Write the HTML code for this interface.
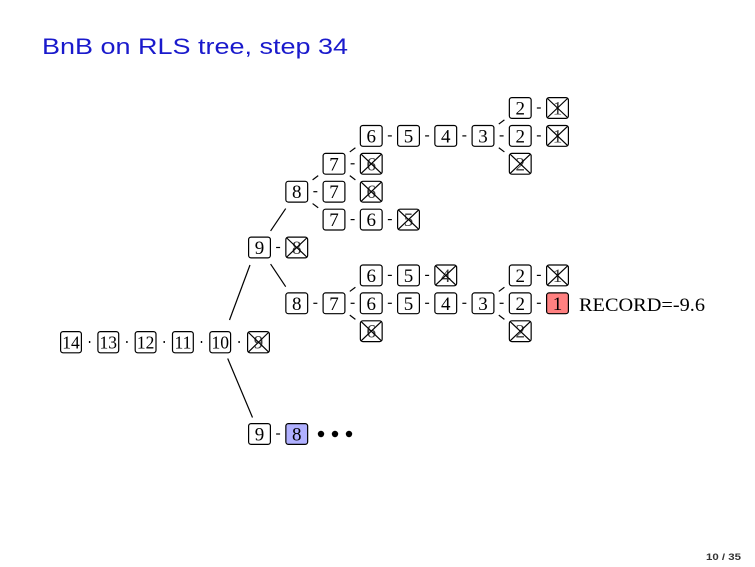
<!DOCTYPE html>
<html>
<head>
<meta charset="utf-8">
<style>
  html, body { margin: 0; padding: 0; background: #ffffff; }
  svg { display: block; }
  .b rect { fill: #ffffff; stroke: #000; stroke-width: 1.2; }
  .b text { font-family: "Liberation Serif", serif; font-size: 19px; text-anchor: middle; fill: #000; }
  .x text { fill: #3a3a3a; }
  .x line { stroke: #000; stroke-width: 1.2; }
  .m text { font-size: 17.5px; }
  .c line, line.c { stroke: #000; stroke-width: 1.2; }
</style>
</head>
<body>
<svg width="755" height="567" viewBox="0 0 755 567" xmlns="http://www.w3.org/2000/svg">
  <!-- Title -->
  <text x="42" y="54" font-family="Liberation Sans, sans-serif" font-size="22.5" fill="#1a1acc" textLength="306" lengthAdjust="spacingAndGlyphs">BnB on RLS tree, step 34</text>

  <!-- connectors -->
  <g class="c">
    <!-- long lines -->
    <line x1="270.6" y1="230.9" x2="285.7" y2="208.6"/>
    <line x1="270.6" y1="264.1" x2="285.7" y2="286.7"/>
    <line x1="229.5" y1="320" x2="250" y2="265"/>
    <line x1="227.7" y1="358.5" x2="252.5" y2="417.5"/>

    <!-- upper subtree -->
    <line x1="312.6" y1="179.85" x2="318.2" y2="175.65"/>
    <line x1="312.6" y1="203.55" x2="318.2" y2="207.75"/>
    <line x1="313.35" y1="191.7" x2="317.35" y2="191.7"/>

    <line x1="349.8" y1="151.95" x2="355.4" y2="147.75"/>
    <line x1="350.6" y1="163.8" x2="354.6" y2="163.8"/>
    <line x1="349.8" y1="175.65" x2="355.4" y2="179.85"/>

    <line x1="387.85" y1="135.9" x2="391.85" y2="135.9"/>
    <line x1="425.1" y1="135.9" x2="429.1" y2="135.9"/>
    <line x1="462.35" y1="135.9" x2="466.35" y2="135.9"/>

    <line x1="498.8" y1="124.05" x2="504.4" y2="119.85"/>
    <line x1="499.6" y1="135.9" x2="503.6" y2="135.9"/>
    <line x1="498.8" y1="147.75" x2="504.4" y2="151.95"/>

    <line x1="536.85" y1="108" x2="540.85" y2="108"/>
    <line x1="536.85" y1="135.9" x2="540.85" y2="135.9"/>

    <line x1="350.6" y1="219.6" x2="354.6" y2="219.6"/>
    <line x1="387.85" y1="219.6" x2="391.85" y2="219.6"/>

    <line x1="276.1" y1="247.5" x2="280.1" y2="247.5"/>

    <!-- lower subtree -->
    <line x1="313.35" y1="303.3" x2="317.35" y2="303.3"/>
    <line x1="349.8" y1="291.45" x2="355.4" y2="287.25"/>
    <line x1="350.6" y1="303.3" x2="354.6" y2="303.3"/>
    <line x1="349.8" y1="315.15" x2="355.4" y2="319.35"/>

    <line x1="387.85" y1="275.4" x2="391.85" y2="275.4"/>
    <line x1="425.1" y1="275.4" x2="429.1" y2="275.4"/>

    <line x1="387.85" y1="303.3" x2="391.85" y2="303.3"/>
    <line x1="425.1" y1="303.3" x2="429.1" y2="303.3"/>
    <line x1="462.35" y1="303.3" x2="466.35" y2="303.3"/>

    <line x1="498.8" y1="291.45" x2="504.4" y2="287.25"/>
    <line x1="499.6" y1="303.3" x2="503.6" y2="303.3"/>
    <line x1="498.8" y1="315.15" x2="504.4" y2="319.35"/>

    <line x1="536.85" y1="275.4" x2="540.85" y2="275.4"/>
    <line x1="536.85" y1="303.3" x2="540.85" y2="303.3"/>

    <!-- bottom row -->
    <line x1="276.1" y1="434" x2="280.1" y2="434"/>
  </g>

  <!-- main row dots -->
  <g fill="#000">
    <rect x="88.9" y="341" width="1.4" height="2"/>
    <rect x="126.2" y="341" width="1.4" height="2"/>
    <rect x="163.5" y="341" width="1.4" height="2"/>
    <rect x="200.8" y="341" width="1.4" height="2"/>
    <rect x="238.4" y="341" width="1.4" height="2"/>
  </g>

  <!-- Upper subtree boxes -->
  <!-- r0 -->
  <g class="b" transform="translate(508.75,97)"><rect x="0.6" y="0.6" width="21.8" height="20.8" rx="2.5"/><text x="11.5" y="17.5">2</text></g>
  <g class="b x" transform="translate(546,97)"><rect x="0.6" y="0.6" width="21.8" height="20.8" rx="2.5"/><text x="11.5" y="17.5">1</text><line x1="1.5" y1="1.5" x2="21.5" y2="20.5"/><line x1="21.5" y1="1.5" x2="1.5" y2="20.5"/></g>
  <!-- r1 -->
  <g class="b" transform="translate(359.75,124.9)"><rect x="0.6" y="0.6" width="21.8" height="20.8" rx="2.5"/><text x="11.5" y="17.5">6</text></g>
  <g class="b" transform="translate(397,124.9)"><rect x="0.6" y="0.6" width="21.8" height="20.8" rx="2.5"/><text x="11.5" y="17.5">5</text></g>
  <g class="b" transform="translate(434.25,124.9)"><rect x="0.6" y="0.6" width="21.8" height="20.8" rx="2.5"/><text x="11.5" y="17.5">4</text></g>
  <g class="b" transform="translate(471.5,124.9)"><rect x="0.6" y="0.6" width="21.8" height="20.8" rx="2.5"/><text x="11.5" y="17.5">3</text></g>
  <g class="b" transform="translate(508.75,124.9)"><rect x="0.6" y="0.6" width="21.8" height="20.8" rx="2.5"/><text x="11.5" y="17.5">2</text></g>
  <g class="b x" transform="translate(546,124.9)"><rect x="0.6" y="0.6" width="21.8" height="20.8" rx="2.5"/><text x="11.5" y="17.5">1</text><line x1="1.5" y1="1.5" x2="21.5" y2="20.5"/><line x1="21.5" y1="1.5" x2="1.5" y2="20.5"/></g>
  <!-- r2 -->
  <g class="b" transform="translate(322.5,152.8)"><rect x="0.6" y="0.6" width="21.8" height="20.8" rx="2.5"/><text x="11.5" y="17.5">7</text></g>
  <g class="b x" transform="translate(359.75,152.8)"><rect x="0.6" y="0.6" width="21.8" height="20.8" rx="2.5"/><text x="11.5" y="17.5">6</text><line x1="1.5" y1="1.5" x2="21.5" y2="20.5"/><line x1="21.5" y1="1.5" x2="1.5" y2="20.5"/></g>
  <g class="b x" transform="translate(508.75,152.8)"><rect x="0.6" y="0.6" width="21.8" height="20.8" rx="2.5"/><text x="11.5" y="17.5">2</text><line x1="1.5" y1="1.5" x2="21.5" y2="20.5"/><line x1="21.5" y1="1.5" x2="1.5" y2="20.5"/></g>
  <!-- r3 -->
  <g class="b" transform="translate(285.25,180.7)"><rect x="0.6" y="0.6" width="21.8" height="20.8" rx="2.5"/><text x="11.5" y="17.5">8</text></g>
  <g class="b" transform="translate(322.5,180.7)"><rect x="0.6" y="0.6" width="21.8" height="20.8" rx="2.5"/><text x="11.5" y="17.5">7</text></g>
  <g class="b x" transform="translate(359.75,180.7)"><rect x="0.6" y="0.6" width="21.8" height="20.8" rx="2.5"/><text x="11.5" y="17.5">6</text><line x1="1.5" y1="1.5" x2="21.5" y2="20.5"/><line x1="21.5" y1="1.5" x2="1.5" y2="20.5"/></g>
  <!-- r4 -->
  <g class="b" transform="translate(322.5,208.6)"><rect x="0.6" y="0.6" width="21.8" height="20.8" rx="2.5"/><text x="11.5" y="17.5">7</text></g>
  <g class="b" transform="translate(359.75,208.6)"><rect x="0.6" y="0.6" width="21.8" height="20.8" rx="2.5"/><text x="11.5" y="17.5">6</text></g>
  <g class="b x" transform="translate(397,208.6)"><rect x="0.6" y="0.6" width="21.8" height="20.8" rx="2.5"/><text x="11.5" y="17.5">5</text><line x1="1.5" y1="1.5" x2="21.5" y2="20.5"/><line x1="21.5" y1="1.5" x2="1.5" y2="20.5"/></g>
  <!-- r5 -->
  <g class="b" transform="translate(248,236.5)"><rect x="0.6" y="0.6" width="21.8" height="20.8" rx="2.5"/><text x="11.5" y="17.5">9</text></g>
  <g class="b x" transform="translate(285.25,236.5)"><rect x="0.6" y="0.6" width="21.8" height="20.8" rx="2.5"/><text x="11.5" y="17.5">8</text><line x1="1.5" y1="1.5" x2="21.5" y2="20.5"/><line x1="21.5" y1="1.5" x2="1.5" y2="20.5"/></g>

  <!-- Lower subtree -->
  <!-- r6 -->
  <g class="b" transform="translate(359.75,264.4)"><rect x="0.6" y="0.6" width="21.8" height="20.8" rx="2.5"/><text x="11.5" y="17.5">6</text></g>
  <g class="b" transform="translate(397,264.4)"><rect x="0.6" y="0.6" width="21.8" height="20.8" rx="2.5"/><text x="11.5" y="17.5">5</text></g>
  <g class="b x" transform="translate(434.25,264.4)"><rect x="0.6" y="0.6" width="21.8" height="20.8" rx="2.5"/><text x="11.5" y="17.5">4</text><line x1="1.5" y1="1.5" x2="21.5" y2="20.5"/><line x1="21.5" y1="1.5" x2="1.5" y2="20.5"/></g>
  <g class="b" transform="translate(508.75,264.4)"><rect x="0.6" y="0.6" width="21.8" height="20.8" rx="2.5"/><text x="11.5" y="17.5">2</text></g>
  <g class="b x" transform="translate(546,264.4)"><rect x="0.6" y="0.6" width="21.8" height="20.8" rx="2.5"/><text x="11.5" y="17.5">1</text><line x1="1.5" y1="1.5" x2="21.5" y2="20.5"/><line x1="21.5" y1="1.5" x2="1.5" y2="20.5"/></g>
  <!-- r7 -->
  <g class="b" transform="translate(285.25,292.3)"><rect x="0.6" y="0.6" width="21.8" height="20.8" rx="2.5"/><text x="11.5" y="17.5">8</text></g>
  <g class="b" transform="translate(322.5,292.3)"><rect x="0.6" y="0.6" width="21.8" height="20.8" rx="2.5"/><text x="11.5" y="17.5">7</text></g>
  <g class="b" transform="translate(359.75,292.3)"><rect x="0.6" y="0.6" width="21.8" height="20.8" rx="2.5"/><text x="11.5" y="17.5">6</text></g>
  <g class="b" transform="translate(397,292.3)"><rect x="0.6" y="0.6" width="21.8" height="20.8" rx="2.5"/><text x="11.5" y="17.5">5</text></g>
  <g class="b" transform="translate(434.25,292.3)"><rect x="0.6" y="0.6" width="21.8" height="20.8" rx="2.5"/><text x="11.5" y="17.5">4</text></g>
  <g class="b" transform="translate(471.5,292.3)"><rect x="0.6" y="0.6" width="21.8" height="20.8" rx="2.5"/><text x="11.5" y="17.5">3</text></g>
  <g class="b" transform="translate(508.75,292.3)"><rect x="0.6" y="0.6" width="21.8" height="20.8" rx="2.5"/><text x="11.5" y="17.5">2</text></g>
  <g class="b" transform="translate(546,292.3)"><rect x="0.6" y="0.6" width="21.8" height="20.8" rx="2.5" style="fill:#ff8080"/><text x="11.5" y="17.5">1</text></g>
  <text x="579" y="311" font-family="Liberation Serif, serif" font-size="19" fill="#000" textLength="126" lengthAdjust="spacingAndGlyphs">RECORD=-9.6</text>
  <!-- r8 -->
  <g class="b x" transform="translate(359.75,320.2)"><rect x="0.6" y="0.6" width="21.8" height="20.8" rx="2.5"/><text x="11.5" y="17.5">6</text><line x1="1.5" y1="1.5" x2="21.5" y2="20.5"/><line x1="21.5" y1="1.5" x2="1.5" y2="20.5"/></g>
  <g class="b x" transform="translate(508.75,320.2)"><rect x="0.6" y="0.6" width="21.8" height="20.8" rx="2.5"/><text x="11.5" y="17.5">2</text><line x1="1.5" y1="1.5" x2="21.5" y2="20.5"/><line x1="21.5" y1="1.5" x2="1.5" y2="20.5"/></g>

  <!-- Main row -->
  <g class="b m" transform="translate(60,331)"><rect x="0.6" y="0.6" width="20.8" height="21.2" rx="2.5"/><text x="11" y="17.5">14</text></g>
  <g class="b m" transform="translate(97.3,331)"><rect x="0.6" y="0.6" width="20.8" height="21.2" rx="2.5"/><text x="11" y="17.5">13</text></g>
  <g class="b m" transform="translate(134.6,331)"><rect x="0.6" y="0.6" width="20.8" height="21.2" rx="2.5"/><text x="11" y="17.5">12</text></g>
  <g class="b m" transform="translate(171.9,331)"><rect x="0.6" y="0.6" width="20.8" height="21.2" rx="2.5"/><text x="11" y="17.5">11</text></g>
  <g class="b m" transform="translate(209.2,331)"><rect x="0.6" y="0.6" width="20.8" height="21.2" rx="2.5"/><text x="11" y="17.5">10</text></g>
  <g class="b x" transform="translate(247,331)"><rect x="0.6" y="0.6" width="21.8" height="21.2" rx="2.5"/><text x="11.5" y="17.5">9</text><line x1="1.5" y1="1.5" x2="21.5" y2="20.9"/><line x1="21.5" y1="1.5" x2="1.5" y2="20.9"/></g>

  <!-- Bottom row -->
  <g class="b" transform="translate(248,423)"><rect x="0.6" y="0.6" width="21.8" height="20.8" rx="2.5"/><text x="11.5" y="17.5">9</text></g>
  <g class="b" transform="translate(285.25,423)"><rect x="0.6" y="0.6" width="21.8" height="20.8" rx="2.5" style="fill:#b0b0ff"/><text x="11.5" y="17.5">8</text></g>
  <circle cx="321" cy="434" r="3.2" fill="#000"/>
  <circle cx="335" cy="434" r="3.2" fill="#000"/>
  <circle cx="349" cy="434" r="3.2" fill="#000"/>

  <!-- Page number -->
  <text x="706" y="560" font-family="Liberation Sans, sans-serif" font-size="9" font-weight="bold" fill="#333" textLength="35" lengthAdjust="spacingAndGlyphs">10 / 35</text>
</svg>
</body>
</html>
